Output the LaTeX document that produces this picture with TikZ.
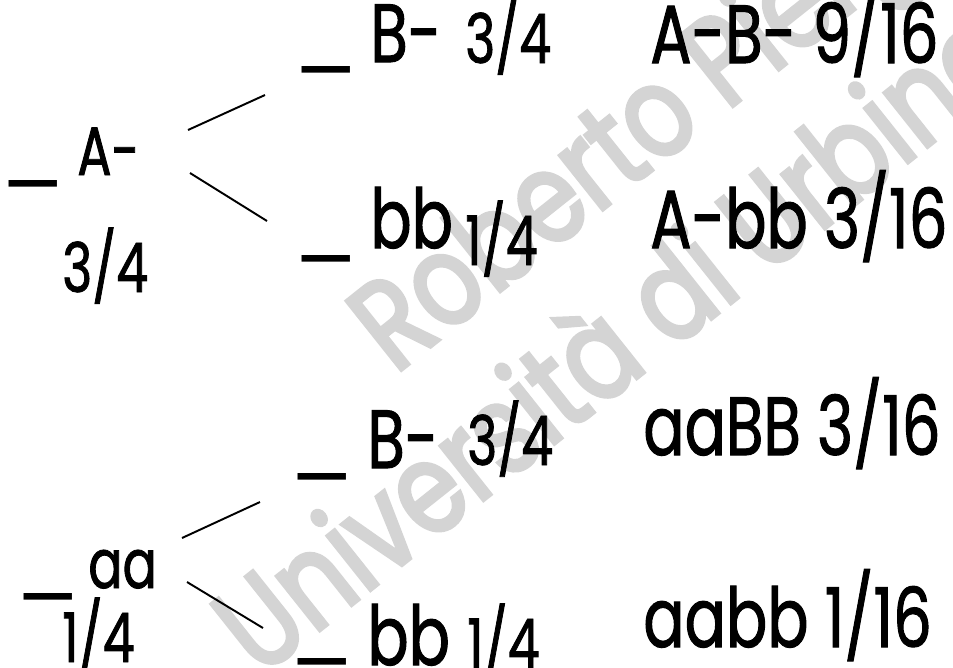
\documentclass[tikz,border=0pt]{standalone}
\usepackage{fontspec}
\setmainfont{Poppins}[FakeStretch=0.74,FakeBold=1.2]
\newfontfamily\wmfont{Poppins}[FakeStretch=0.8,FakeBold=3]
\newfontfamily\lowfont{Poppins}[FakeStretch=1.15]
\usepackage{tikz}

\begin{document}
\begin{tikzpicture}[x=0.02cm,y=-0.02cm]
    \tikzstyle{big}=[inner sep=0, anchor=base west, font=\fontsize{47}{54}\selectfont]
    \tikzstyle{small}=[inner sep=0, anchor=base west, font=\fontsize{39}{46}\selectfont]
    \tikzstyle{blank}=[inner sep=0, font=\lowfont\fontsize{45}{50}\selectfont]
    \tikzstyle{branch}=[line width=1.1pt]
    \tikzstyle{wmark}=[inner sep=0, anchor=base west, rotate=38.5,
    text=black!17, font=\wmfont\fontsize{72}{78}\selectfont]
\useasboundingbox (0,0) rectangle (953,667);

% watermark, drawn first so it stays underneath
\node[wmark] (w1) at (395,375) {Roberto Piergiovanni};
\node[wmark] (w2) at (260,678) {Università di Urbino};

% first gene
\node[blank] (uA) at (33,182) {\_};
\node[small] (A) at (77,175) {A-};
\node[small] (pA) at (62,292) {3/4};
\node[blank] (ua) at (48,595) {\_};
\node[small] (a) at (88,588) {aa};
\node[small] (pa) at (62,662) {1/4};

% second gene, under A-
\node[blank] (uB1) at (326,68) {\_};
\node[big] (B1) at (370,62) {B-};
\node[small] (pB1) at (465,63) {3/4};
\node[blank] (ub1) at (326,257) {\_};
\node[big] (b1) at (370,248) {bb};
\node[small] (pb1) at (465,265) {1/4};

% second gene, under aa
\node[blank] (uB2) at (322,475) {\_};
\node[big] (B2) at (367,468) {B-};
\node[small] (pB2) at (467,465) {3/4};
\node[blank] (ub2) at (322,660) {\_};
\node[big] (b2) at (367,665) {bb};
\node[small] (pb2) at (467,668) {1/4};

% products
\node[big] (r1) at (650,63) {A-B- 9/16};
\node[big] (r2) at (650,248) {A-bb 3/16};
\node[big] (r3) at (643,455) {aaBB 3/16};
\node[big] (r4) at (643,647) {aabb 1/16};

% branches
\coordinate (A-up) at (188,130);
\coordinate (A-dn) at (190,173);
\coordinate (B1-in) at (265,95);
\coordinate (b1-in) at (267,221);
\coordinate (a-up) at (182,538);
\coordinate (a-dn) at (187,582);
\coordinate (B2-in) at (260,502);
\coordinate (b2-in) at (263,628);
\draw[branch] (A-up) -- (B1-in);
\draw[branch] (A-dn) -- (b1-in);
\draw[branch] (a-up) -- (B2-in);
\draw[branch] (a-dn) -- (b2-in);

\end{tikzpicture}
\end{document}
